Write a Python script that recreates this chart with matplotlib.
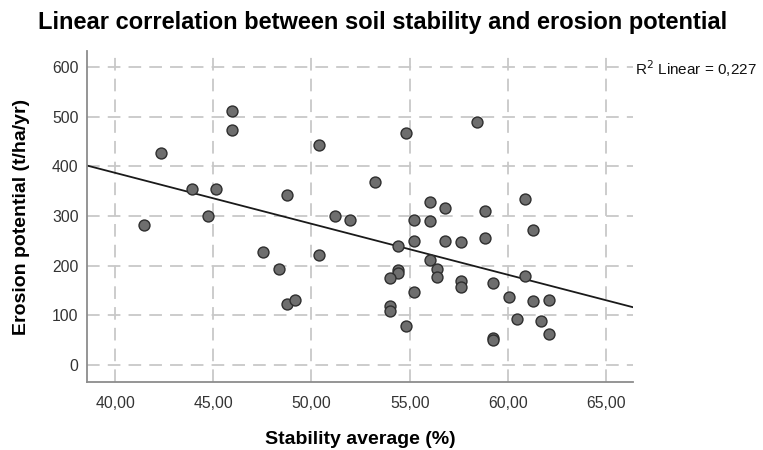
import numpy as np
import matplotlib
matplotlib.use("Agg")
import matplotlib.pyplot as plt
from matplotlib.ticker import FuncFormatter

plt.rcParams['font.family'] = ['Liberation Sans', 'DejaVu Sans']

# Stability average (%) and erosion potential (t/ha/yr) per sample
stability = [
    45.94, 45.94, 42.34, 43.90, 45.13, 48.76, 44.75,
    41.49, 47.55, 48.37, 48.76, 49.16,
    50.37, 54.82, 58.45, 53.22, 56.04, 56.82, 58.85, 60.89, 51.19, 51.97,
    55.22, 56.04, 61.27, 50.37, 54.41, 55.22, 56.82, 57.63, 58.85, 56.04,
    56.41, 56.41, 54.41, 54.41, 54.00, 57.63, 57.63, 55.22, 59.23, 60.89,
    60.04, 61.27, 62.08, 54.00, 54.00, 54.82, 60.45, 61.67, 62.08, 59.23,
    59.23,
]
erosion = [
    511, 473, 426, 355, 355, 343, 301,
    282, 227, 193, 123, 132,
    443, 467, 490, 369, 328, 316, 310, 335, 301, 292,
    292, 289, 272, 222, 239, 249, 249, 247, 255, 212,
    194, 178, 192, 185, 175, 170, 157, 147, 165, 180,
    137, 129, 132, 119, 109, 79, 92, 89, 63, 55,
    51,
]
x_ticks = [40, 45, 50, 55, 60, 65]
y_ticks = [0, 100, 200, 300, 400, 500, 600]
r2_label = "R$^2$ Linear = 0,227"

fig = plt.figure(figsize=(7.63, 4.5), dpi=100)
ax = fig.add_axes([0.114, 0.151, 0.7156, 0.7357])

x_lo, x_hi = 38.57, 66.37
ax.set_xlim(x_lo, x_hi)
ax.set_ylim(-34, 632)

ax.set_xticks(x_ticks)
ax.set_yticks(y_ticks)
ax.xaxis.set_major_formatter(FuncFormatter(lambda v, p: f"{v:.2f}".replace(".", ",")))
ax.yaxis.set_major_formatter(FuncFormatter(lambda v, p: f"{int(v)}"))

ax.grid(True, color="#c8c8c8", linewidth=1.3, linestyle=(0, (7, 4.5)))
ax.set_axisbelow(True)
ax.tick_params(axis="both", length=0, labelsize=11.3, colors="#333333")
ax.tick_params(axis="y", pad=6)
ax.tick_params(axis="x", pad=10)

for side in ("top", "right"):
    ax.spines[side].set_visible(False)
for side in ("left", "bottom"):
    ax.spines[side].set_color("#8c8c8c")
    ax.spines[side].set_linewidth(1.3)

# Least-squares fit line
slope, intercept = np.polyfit(stability, erosion, 1)
xs = np.array([x_lo, x_hi])
ax.plot(xs, slope * xs + intercept, color="#1a1a1a", linewidth=1.3, zorder=2)

ax.scatter(stability, erosion, s=62, facecolor="#6e6e6e", edgecolor="#2e2e2e",
           linewidth=1.0, zorder=3)

ax.set_xlabel("Stability average (%)", fontsize=14, fontweight="bold")
ax.xaxis.set_label_coords(0.5, -0.148)
ax.set_ylabel("Erosion potential (t/ha/yr)", fontsize=14, fontweight="bold")
ax.yaxis.set_label_coords(-0.104, 0.5)

fig.text(0.832, 0.848, r2_label, fontsize=11, color="#111111", va="center", ha="left")
fig.text(0.502, 0.951, "Linear correlation between soil stability and erosion potential",
         fontsize=17, fontweight="bold", ha="center", va="center")

fig.savefig("out.png", dpi=100)
